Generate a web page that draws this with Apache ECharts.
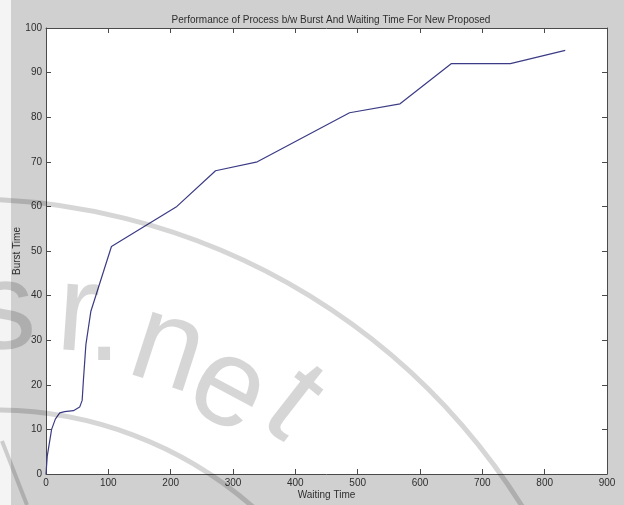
<!DOCTYPE html>
<html>
<head>
<meta charset="utf-8">
<script src="https://cdn.jsdelivr.net/npm/echarts@6/dist/echarts.min.js"></script>
<style>
  html, body { margin: 0; padding: 0; background: #ffffff; }
  #chart { width: 624px; height: 505px; }
</style>
</head>
<body>
<div id="chart"></div>
<script>
// Waiting time (x) against burst time (y) for each process, in run order
const waitingTime = [0, 2, 9, 15, 22, 30, 44, 54, 58, 60, 64, 72, 105, 210, 272, 339, 487, 568, 650, 745, 833];
const burstTime   = [0, 4, 10, 12.3, 13.7, 14, 14.2, 15, 16.5, 21, 29, 36.5, 51, 60, 68, 70, 81, 83, 92, 92, 95];

const xTicks = [0, 100, 200, 300, 400, 500, 600, 700, 800, 900];
const yTicks = [0, 10, 20, 30, 40, 50, 60, 70, 80, 90, 100];

const titleText = 'Performance of Process b/w Burst And Waiting Time For New Proposed';
const xName = 'Waiting Time';
const yName = 'Burst Time';
const markText = ['s', 'r', '.', 'n', 'e', 't'];

const points = waitingTime.map((w, i) => [w, burstTime[i]]);

const FONT = '"Liberation Sans Narrow", "Arial Narrow", "Liberation Sans", Arial, sans-serif';
const TXT = '#2e2e2e';
const AX = '#4a4a4a';
const FIG_BG = '#d0d0d0';
const MARK = 'rgba(0,0,0,0.16)';

const chart = echarts.init(document.getElementById('chart'), null, { renderer: 'canvas' });

const boxAxis = (extra) => Object.assign({
  type: 'value',
  axisLine: { show: true, onZero: false, lineStyle: { color: AX, width: 1 } },
  axisTick: { show: true, inside: true, length: 5, lineStyle: { color: AX } },
  splitLine: { show: false }
}, extra);

// Decorative stamp drawn over the figure
const letterPos = [
  { x: 4,   y: 314, r: 4 },
  { x: 78,  y: 316, r: -4 },
  { x: 104, y: 326, r: 0 },
  { x: 168, y: 350, r: -18 },
  { x: 228, y: 390, r: -28 },
  { x: 292, y: 405, r: -38 }
];

chart.setOption({
  backgroundColor: FIG_BG,
  animation: false,
  title: {
    text: titleText,
    left: 326, top: 10,
    textAlign: 'center',
    textStyle: { fontFamily: FONT, fontSize: 10, fontWeight: 'normal', color: TXT }
  },
  grid: {
    left: 46, right: 17, top: 28, bottom: 31,
    outerBoundsMode: 'none', containLabel: false,
    show: true, backgroundColor: '#ffffff', borderWidth: 0
  },
  xAxis: [
    boxAxis({
      min: xTicks[0], max: xTicks[xTicks.length - 1], interval: 100,
      position: 'bottom',
      name: xName, nameLocation: 'middle', nameGap: 16, nameMoveOverlap: false,
      nameTextStyle: { fontFamily: FONT, fontSize: 10, color: TXT },
      axisLabel: { fontFamily: FONT, fontSize: 10, color: TXT, margin: 4 }
    }),
    boxAxis({
      min: xTicks[0], max: xTicks[xTicks.length - 1], interval: 100,
      position: 'top', axisLabel: { show: false }
    })
  ],
  yAxis: [
    boxAxis({
      min: yTicks[0], max: yTicks[yTicks.length - 1], interval: 10,
      position: 'left',
      name: yName, nameLocation: 'middle', nameGap: 24, nameMoveOverlap: false,
      nameTextStyle: { fontFamily: FONT, fontSize: 10, color: TXT },
      axisLabel: { fontFamily: FONT, fontSize: 10, color: TXT, margin: 4 }
    }),
    boxAxis({
      min: yTicks[0], max: yTicks[yTicks.length - 1], interval: 10,
      position: 'right', axisLabel: { show: false }
    })
  ],
  series: [{
    type: 'line',
    data: points,
    xAxisIndex: 0, yAxisIndex: 0,
    showSymbol: false,
    smooth: false,
    lineStyle: { color: '#3b3b86', width: 1.2 },
    z: 3
  }],
  graphic: [
    { type: 'rect', shape: { x: 0, y: 0, width: 11, height: 505 }, style: { fill: '#f4f4f4' }, z: 90 },
    { type: 'arc', shape: { cx: -33, cy: 854, r: 655, startAngle: -1.62, endAngle: -0.42, clockwise: true },
      style: { stroke: MARK, lineWidth: 5, fill: null }, z: 100, silent: true },
    { type: 'arc', shape: { cx: -4, cy: 799, r: 389, startAngle: -1.62, endAngle: -0.8, clockwise: true },
      style: { stroke: MARK, lineWidth: 5, fill: null }, z: 100, silent: true },
    { type: 'line', shape: { x1: 2, y1: 441, x2: 27, y2: 505 },
      style: { stroke: MARK, lineWidth: 4 }, z: 100, silent: true }
  ].concat(markText.map((ch, i) => ({
    type: 'text',
    x: letterPos[i].x, y: letterPos[i].y,
    rotation: letterPos[i].r * Math.PI / 180,
    silent: true, z: 100,
    style: {
      text: ch,
      font: '125px "Liberation Sans", Arial, sans-serif',
      fill: MARK,
      align: 'center', verticalAlign: 'middle'
    }
  })))
});
</script>
</body>
</html>
